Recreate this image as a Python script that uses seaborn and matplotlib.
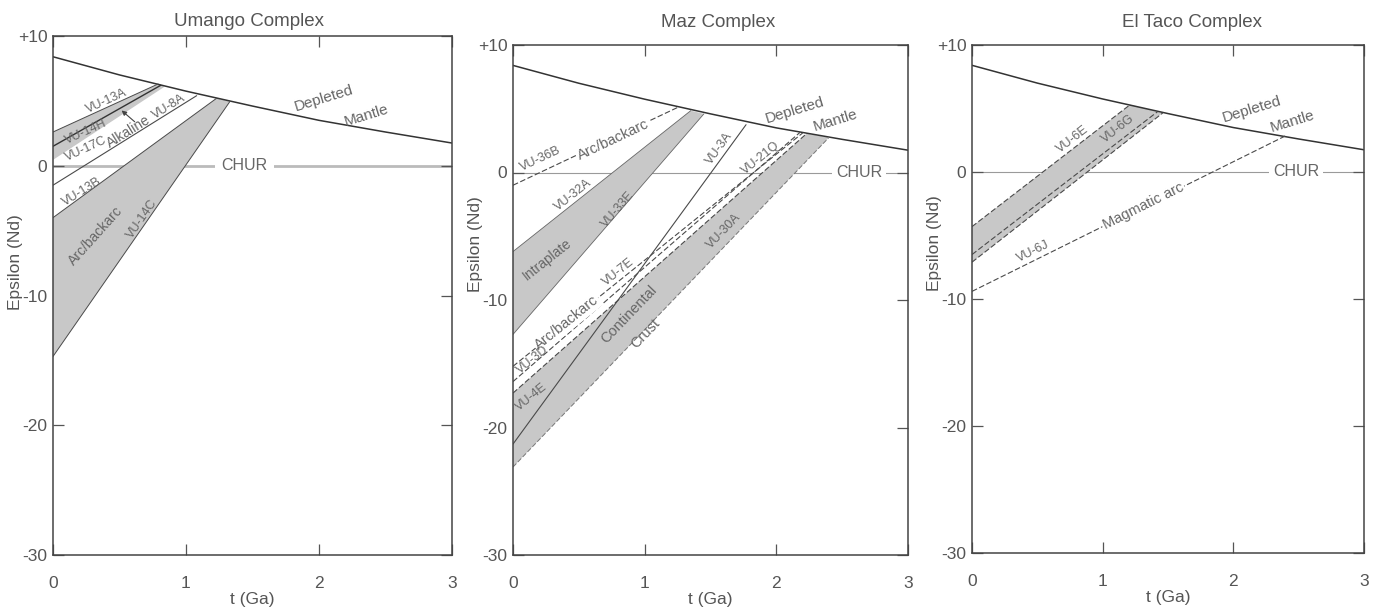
import numpy as np
import pandas as pd
import matplotlib
matplotlib.use("Agg")
import matplotlib.pyplot as plt
import seaborn as sns

# ---------------- data ----------------
TITLES = ["Umango Complex", "Maz Complex", "El Taco Complex"]
X_TICKS = [0, 1, 2, 3]
Y_TICKS = [10, 0, -10, -20, -30]
Y_TICK_LABELS = ["+10", "0", "-10", "-20", "-30"]

# Depleted mantle evolution curve
DM_T = [0, 0.5, 1.0, 1.5, 2.0, 2.5, 3.0]
DM_EPS = [8.4, 7.0, 5.75, 4.6, 3.5, 2.6, 1.75]

# Umango complex: model-age lines (t at sample age / at DM, eps at both ends)
U_ALK_TOP_T = [0, 0.79]
U_ALK_TOP_E = [2.6, 6.3]
U_ALK_BOT_T = [0, 0.84]
U_ALK_BOT_E = [0.45, 6.1]
U_14H_T = [0, 0.81]
U_14H_E = [1.5, 6.2]
U_8A_T = [0, 1.08]
U_8A_E = [-1.5, 5.4]
U_ARC_TOP_T = [0, 1.23]
U_ARC_TOP_E = [-4.0, 5.2]
U_ARC_BOT_T = [0, 1.33]
U_ARC_BOT_E = [-14.7, 4.95]

# Maz complex
M_36B_T = [0, 1.25]
M_36B_E = [-1.0, 5.1]
M_INT_TOP_T = [0, 1.35]
M_INT_TOP_E = [-6.2, 4.85]
M_INT_BOT_T = [0, 1.45]
M_INT_BOT_E = [-12.7, 4.6]
M_3A_T = [0, 1.77]
M_3A_E = [-21.3, 3.75]
M_7E_T = [0, 2.2]
M_7E_E = [-15.2, 3.1]
M_3D_T = [0, 2.18]
M_3D_E = [-16.4, 3.15]
M_CR_TOP_T = [0, 2.23]
M_CR_TOP_E = [-17.3, 3.05]
M_CR_BOT_T = [0, 2.4]
M_CR_BOT_E = [-23.1, 2.75]

# El Taco complex
E_TOP_T = [0, 1.21]
E_TOP_E = [-4.3, 5.3]
E_BOT_T = [0, 1.46]
E_BOT_E = [-7.1, 4.65]
E_6G_T = [0, 1.42]
E_6G_E = [-6.5, 4.75]
E_6J_T = [0, 2.4]
E_6J_E = [-9.4, 2.85]

# ---------------- styling ----------------
sns.set_theme(style="ticks")
plt.rcParams["font.family"] = ["Liberation Sans", "DejaVu Sans"]
plt.rcParams.update({
    "xtick.direction": "in", "ytick.direction": "in",
    "xtick.top": True, "ytick.right": True,
    "xtick.major.size": 8, "ytick.major.size": 8,
    "xtick.major.width": 0.9, "ytick.major.width": 0.9,
    "xtick.color": "#555555", "ytick.color": "#555555",
    "axes.edgecolor": "#444444", "axes.linewidth": 1.1,
    "text.color": "#555555", "axes.labelcolor": "#555555",
})

FILL = "#c8c8c8"
LINE = "#4a4a4a"
TXT = "#666666"
DASH = (0, (5, 2.2))

fig = plt.figure(figsize=(13.83, 6.12), dpi=100)
pos = [
    [53 / 1383, 1 - 555 / 612, 399 / 1383, 519 / 612],
    [513 / 1383, 1 - 555 / 612, 395 / 1383, 510 / 612],
    [972 / 1383, 1 - 553 / 612, 392 / 1383, 508 / 612],
]
axes = [fig.add_axes(p) for p in pos]
title_x = [0.49, 0.52, 0.56]
ylab_y = [0.565, 0.61, 0.61]


def line(ax, t, e, ls="-", lw=0.9, color=LINE):
    sns.lineplot(x=t, y=e, ax=ax, color=color, linestyle=ls, lw=lw,
                 estimator=None, sort=False)


def band(ax, tt, et, tb, eb):
    ax.fill([tt[0], tt[1], tb[1], tb[0]], [et[0], et[1], eb[1], eb[0]],
            color=FILL, lw=0, zorder=1)


def ang(t, e):
    return np.degrees(np.arctan2(e[1] - e[0], t[1] - t[0]))


def label(ax, x, y, s, rot, size=8.5, bg=False, pad=1.0, data_rot=True):
    bbox = dict(fc="white", ec="none", pad=pad) if bg else None
    ax.text(x, y, s, rotation=rot, transform_rotates_text=data_rot,
            rotation_mode="anchor", ha="center", va="center",
            fontsize=size, color=TXT, bbox=bbox, zorder=5)


DM_ROT = 17
DM_SIZE = 11

for i, ax in enumerate(axes):
    ax.set_xlim(0, 3)
    ax.set_ylim(-30, 10)
    ax.set_xticks(X_TICKS)
    ax.set_xticklabels([str(v) for v in X_TICKS])
    ax.set_yticks(Y_TICKS)
    ax.set_yticklabels(Y_TICK_LABELS)
    ax.tick_params(axis="x", labelsize=12.5, pad=15)
    ax.tick_params(axis="y", labelsize=12.5, pad=4)
    ax.set_xlabel("t (Ga)", fontsize=12.5, labelpad=1)
    ax.set_ylabel("Epsilon (Nd)", fontsize=12.5)
    ax.yaxis.set_label_coords(-0.076, ylab_y[i])
    ax.set_title(TITLES[i], fontsize=13.5, color="#555555",
                 x=title_x[i], pad=7 if i == 0 else 13)
    # CHUR line
    if i == 0:
        ax.axhline(0, color="#bbbbbb", lw=2.0, zorder=0.5)
    else:
        ax.axhline(0, color="#9a9a9a", lw=0.8, zorder=0.5)
    # depleted mantle
    line(ax, DM_T, DM_EPS, lw=1.1, color="#333333")

ax1, ax2, ax3 = axes

# ---- Umango ----
band(ax1, U_ALK_TOP_T, U_ALK_TOP_E, U_ALK_BOT_T, U_ALK_BOT_E)
band(ax1, U_ARC_TOP_T, U_ARC_TOP_E, U_ARC_BOT_T, U_ARC_BOT_E)
line(ax1, U_ALK_TOP_T, U_ALK_TOP_E, lw=0.7)
line(ax1, U_14H_T, U_14H_E, lw=1.0, color="#333333")
line(ax1, U_8A_T, U_8A_E, lw=0.8)
line(ax1, U_ARC_TOP_T, U_ARC_TOP_E, lw=0.7)
line(ax1, U_ARC_BOT_T, U_ARC_BOT_E, lw=0.7)
a_alk = ang(U_ALK_TOP_T, U_ALK_TOP_E)
a_8a = ang(U_8A_T, U_8A_E)
label(ax1, 0.40, 5.0, "VU-13A", a_alk, size=9)
label(ax1, 0.25, 2.6, "VU-14H", a_alk, size=9)
label(ax1, 0.25, 1.3, "VU-17C", a_alk, size=9)
label(ax1, 0.565, 2.65, "Alkaline", a_8a, size=10)
label(ax1, 0.875, 4.55, "VU-8A", a_8a, size=9)
label(ax1, 0.215, -2.0, "VU-13B", a_8a, size=9)
label(ax1, 0.32, -5.4, "Arc/backarc", ang([0, 1.28], [-9.5, 5.1]), size=10)
label(ax1, 0.67, -4.1, "VU-14C", ang(U_ARC_BOT_T, U_ARC_BOT_E), size=9)
ax1.annotate("", xy=(0.50, 4.4), xytext=(0.63, 3.25),
             arrowprops=dict(arrowstyle="-|>", color="#444444", lw=0.8,
                             mutation_scale=7), zorder=5)
label(ax1, 1.44, 0.0, "CHUR", 0, size=11.5, bg=True, pad=5)
label(ax1, 2.04, 5.2, "Depleted", DM_ROT, size=DM_SIZE, data_rot=False)
label(ax1, 2.36, 3.9, "Mantle", DM_ROT, size=DM_SIZE, data_rot=False)

# ---- Maz ----
band(ax2, M_INT_TOP_T, M_INT_TOP_E, M_INT_BOT_T, M_INT_BOT_E)
band(ax2, M_CR_TOP_T, M_CR_TOP_E, M_CR_BOT_T, M_CR_BOT_E)
line(ax2, M_36B_T, M_36B_E, ls=DASH, lw=0.8)
line(ax2, M_INT_TOP_T, M_INT_TOP_E, lw=0.6, color="#666666")
line(ax2, M_INT_BOT_T, M_INT_BOT_E, lw=0.6, color="#666666")
line(ax2, M_3A_T, M_3A_E, lw=0.8)
line(ax2, M_7E_T, M_7E_E, ls=DASH, lw=0.8)
line(ax2, M_3D_T, M_3D_E, ls=DASH, lw=0.8)
line(ax2, M_CR_TOP_T, M_CR_TOP_E, ls=DASH, lw=0.8)
line(ax2, M_CR_BOT_T, M_CR_BOT_E, ls=DASH, lw=0.7, color="#777777")
a36 = ang(M_36B_T, M_36B_E)
label(ax2, 0.21, 1.1, "VU-36B", a36, size=9)
label(ax2, 0.76, 2.6, "Arc/backarc", a36, size=10.5, bg=True)
label(ax2, 0.46, -1.8, "VU-32A", ang(M_INT_TOP_T, M_INT_TOP_E), size=9)
label(ax2, 0.80, -2.9, "VU-33E", ang(M_INT_BOT_T, M_INT_BOT_E), size=9)
label(ax2, 0.26, -6.8, "Intraplate", ang(M_INT_TOP_T, M_INT_TOP_E), size=10)
label(ax2, 1.57, 1.9, "VU-3A", ang(M_3A_T, M_3A_E), size=9)
a7e = ang(M_7E_T, M_7E_E)
label(ax2, 1.88, 1.1, "VU-21Q", a7e, size=9)
label(ax2, 0.80, -7.8, "VU-7E", a7e, size=9)
label(ax2, 0.41, -11.8, "Arc/backarc", a7e, size=10.5, bg=True)
label(ax2, 0.15, -14.7, "VU-3D", a7e, size=9)
label(ax2, 0.14, -17.6, "VU-4E", a7e, size=9)
acr = ang(M_CR_BOT_T, M_CR_BOT_E)
label(ax2, 1.60, -4.6, "VU-30A", acr, size=9)
label(ax2, 0.88, -11.1, "Continental", acr, size=10.5)
label(ax2, 1.01, -12.6, "Crust", acr, size=10.5)
label(ax2, 2.63, 0.0, "CHUR", 0, size=11.5, bg=True, pad=3)
label(ax2, 2.14, 4.85, "Depleted", DM_ROT, size=DM_SIZE, data_rot=False)
label(ax2, 2.45, 4.05, "Mantle", DM_ROT, size=DM_SIZE, data_rot=False)

# ---- El Taco ----
band(ax3, E_TOP_T, E_TOP_E, E_BOT_T, E_BOT_E)
line(ax3, E_TOP_T, E_TOP_E, ls=DASH, lw=0.8)
line(ax3, E_6G_T, E_6G_E, ls=DASH, lw=0.8)
line(ax3, E_BOT_T, E_BOT_E, ls=DASH, lw=0.8)
line(ax3, E_6J_T, E_6J_E, ls=DASH, lw=0.8)
label(ax3, 0.77, 2.6, "VU-6E", ang(E_TOP_T, E_TOP_E), size=9)
label(ax3, 1.12, 3.4, "VU-6G", ang(E_BOT_T, E_BOT_E), size=9)
a6j = ang(E_6J_T, E_6J_E)
label(ax3, 1.31, -2.7, "Magmatic arc", a6j, size=10.5, bg=True)
label(ax3, 0.47, -6.3, "VU-6J", a6j, size=9)
label(ax3, 2.48, 0.0, "CHUR", 0, size=11.5, bg=True, pad=3)
label(ax3, 2.14, 4.95, "Depleted", DM_ROT, size=DM_SIZE, data_rot=False)
label(ax3, 2.45, 3.95, "Mantle", DM_ROT, size=DM_SIZE, data_rot=False)

fig.savefig("out.png", dpi=100, facecolor="white")
